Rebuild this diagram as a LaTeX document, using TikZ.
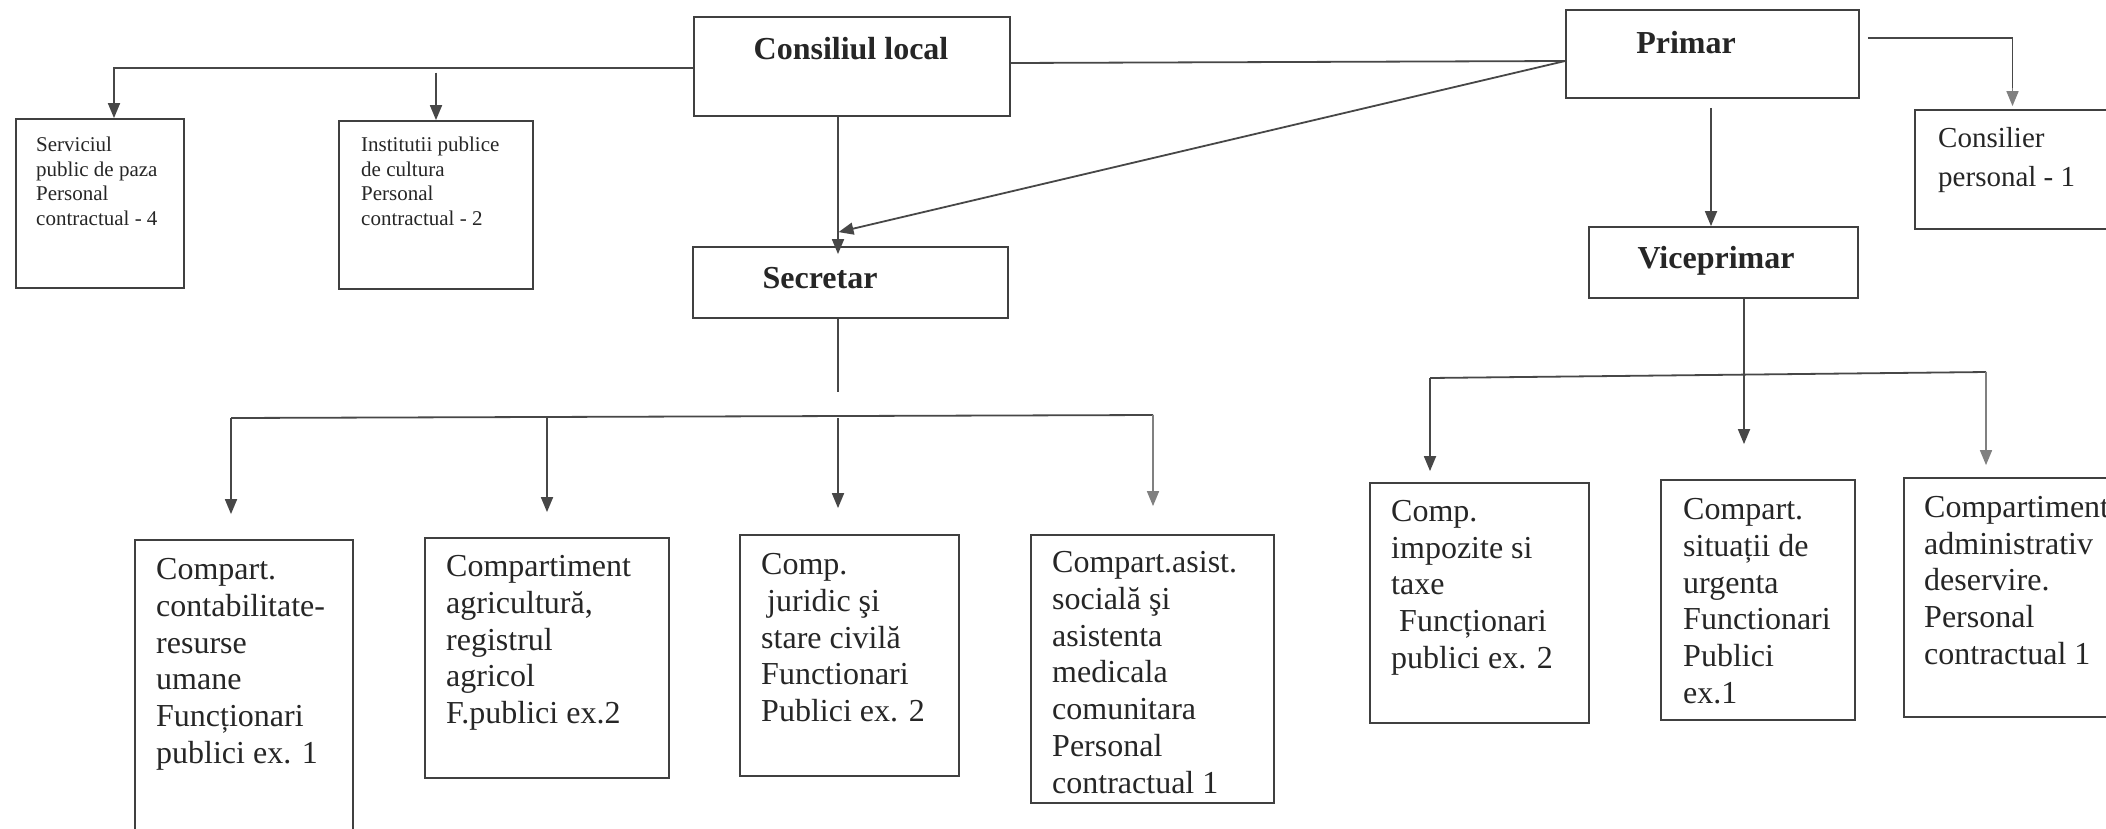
\documentclass[tikz,border=0pt]{standalone}
\usepackage{fontspec}
\setmainfont{Liberation Serif}
\usetikzlibrary{arrows.meta,calc}
\begin{document}
\begin{tikzpicture}[x=1pt,y=-1pt,
  boxst/.style={draw=black!75, line width=1.8pt, rectangle, inner sep=0pt},
  ln/.style={draw=black!72, line width=1.8pt},
  arr/.style={ln, -{Triangle[length=15pt,width=12pt]}},
  arrl/.style={draw=black!50, line width=1.6pt, -{Triangle[length=15pt,width=12pt]}},
  txt/.style={anchor=north west, inner sep=0pt, align=left, text=black!85},
  bigtxt/.style={txt, font=\fontsize{32}{36.8}\selectfont},
  smalltxt/.style={txt, font=\fontsize{21}{24.5}\selectfont},
  midtxt/.style={txt, font=\fontsize{29}{39}\selectfont},
  boldtxt/.style={anchor=base, inner sep=0pt, font=\fontsize{32}{37}\selectfont\bfseries, text=black!85}]
\useasboundingbox (0,0) rectangle (2106,828);
\clip (0,0) rectangle (2106,828);
\fill[white] (0,0) rectangle (2106,828);

% boxes
\node[boxst, minimum width=316pt, minimum height=99pt] (cl) at (852,66.5) {};
\node[boxst, minimum width=168pt, minimum height=169pt] (sv) at (100,203.5) {};
\node[boxst, minimum width=194pt, minimum height=168pt] (in) at (436,205) {};
\node[boxst, minimum width=293pt, minimum height=88pt] (pr) at (1712.5,54) {};
\node[boxst, minimum width=315pt, minimum height=71pt] (sc) at (850.5,282.5) {};
\node[boxst, minimum width=269pt, minimum height=71pt] (vp) at (1723.5,262.5) {};
\node[boxst, minimum width=215pt, minimum height=119pt] (cp) at (2022.5,169.5) {};
\node[boxst, minimum width=218pt, minimum height=310pt] (b1) at (244,695) {};
\node[boxst, minimum width=244pt, minimum height=240pt] (b2) at (547,658) {};
\node[boxst, minimum width=219pt, minimum height=241pt] (b3) at (849.5,655.5) {};
\node[boxst, minimum width=243pt, minimum height=268pt] (b4) at (1152.5,669) {};
\node[boxst, minimum width=219pt, minimum height=240pt] (b5) at (1479.5,603) {};
\node[boxst, minimum width=194pt, minimum height=240pt] (b6) at (1758,600) {};
\node[boxst, minimum width=226pt, minimum height=239pt] (b7) at (2017,597.5) {};

% titles
\node[boldtxt] (clt) at (851,59) {Consiliul local};
\node[boldtxt] (prt) at (1686,53) {Primar};
\node[boldtxt] (sct) at (820,288) {Secretar};
\node[boldtxt] (vpt) at (1716,268) {Viceprimar};

% texts
\node[smalltxt] (svt) at (36,137) {Serviciul\\public de paza\\Personal\\contractual - 4};
\node[smalltxt] (int) at (361,137) {Institutii publice\\de cultura\\Personal\\contractual - 2};
\node[midtxt] (cpt) at (1938,127) {Consilier\\personal - 1};
\node[bigtxt] (b1t) at (156,558) {Compart.\\contabilitate-\\resurse\\umane\\Funcționari\\publici ex. 1};
\node[bigtxt] (b2t) at (446,555) {Compartiment\\agricultură,\\registrul\\agricol\\F.publici ex.2};
\node[bigtxt] (b3t) at (761,553) {Comp.\\\hspace*{6pt}juridic şi\\stare civilă\\Functionari\\Publici ex. 2};
\node[bigtxt] (b4t) at (1052,551) {Compart.asist.\\socială şi\\asistenta\\medicala\\comunitara\\Personal\\contractual 1};
\node[bigtxt] (b5t) at (1391,500) {Comp.\\impozite si\\taxe\\\hspace*{8pt}Funcționari\\publici ex. 2};
\node[bigtxt] (b6t) at (1683,498) {Compart.\\situații de\\urgenta\\Functionari\\Publici\\ex.1};
\node[bigtxt] (b7t) at (1924,496) {Compartiment\\administrativ\\deservire.\\Personal\\contractual 1};

% connectors top-left
\draw[arr] ($(cl.west)+(0,1.5)$) -| ($(sv.north)+(14,0)$);
\draw[arr] ($(in.north |- cl.west)+(0,6)$) -- (in.north);
% Consiliul local -- Primar
\draw[ln] ($(cl.east)+(0,-3.5)$) -- ($(pr.west)+(0,7)$);
\draw[arr] ($(pr.west)+(0,7)$) -- ($(sc.north)+(-12,-14)$);
\draw[arr] ($(cl.south)+(-14,0)$) -- ($(cl.south |- sc.north)+(-14,8)$);

% Secretar branch
\coordinate (scend) at (838,392);
\draw[ln] ($(sc.south)+(-12.5,0)$) -- (scend);
\coordinate (barL) at (231,418);
\coordinate (barR) at (1153,415);
\draw[ln] (barL) -- (barR);
\draw[arr] (barL) -- ($(b1.north -| barL)+(0,-25)$);
\draw[arr] (b2.north |- barL) -- ($(b2.north)+(0,-25)$);
\draw[arr] (scend |- barL) -- ($(b3.north -| scend)+(0,-26)$);
\draw[arrl] (barR) -- ($(b4.north -| barR)+(0,-28)$);

% Primar branch
\draw[arr] ($(pr.south)+(-1.5,9)$) -- ($(pr.south |- vp.north)+(-1.5,0)$);
\draw[ln] ($(pr.east)+(8,-16)$) -| ($(cp.north)+(-10,-20)$);
\draw[arrl] ($(cp.north)+(-10,-21)$) -- ($(cp.north)+(-10,-3)$);

% Viceprimar branch
\coordinate (vpc) at (1744,376);
\draw[arr] (vp.south -| vpc) -- ($(b6.north -| vpc)+(0,-35)$);
\coordinate (bar2L) at (1430,378);
\coordinate (bar2R) at (1986,372);
\draw[ln] (bar2L) -- (bar2R);
\draw[arr] (bar2L) -- ($(b5.north -| bar2L)+(0,-11)$);
\draw[arrl] (bar2R) -- ($(b7.north -| bar2R)+(0,-12)$);
\end{tikzpicture}
\end{document}
